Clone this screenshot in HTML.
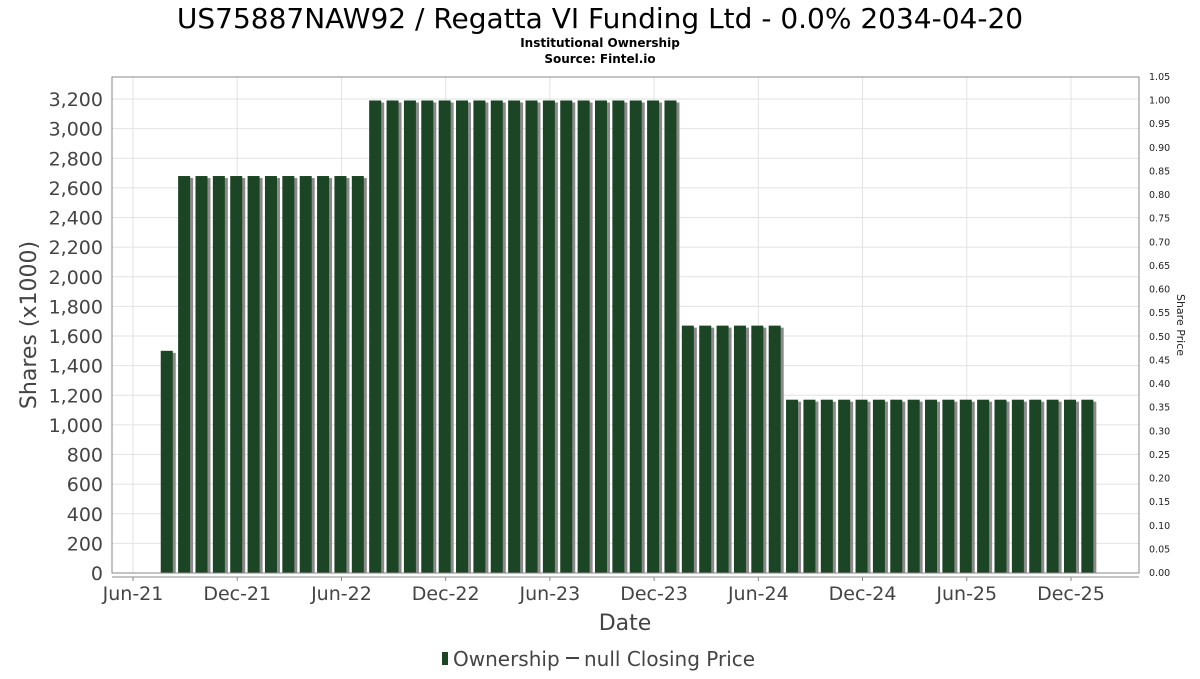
<!DOCTYPE html>
<html><head><meta charset="utf-8"><style>
body{margin:0;background:#fff;font-family:"DejaVu Sans","Liberation Sans",sans-serif}
svg text{font-family:"DejaVu Sans","Liberation Sans",sans-serif}
</style></head><body>
<svg id="c" width="1200" height="675" viewBox="0 0 1200 675">
<text x="600" y="28" font-size="28" text-anchor="middle" fill="#000">US75887NAW92 / Regatta VI Funding Ltd - 0.0% 2034-04-20</text>
<text x="600" y="47" font-size="12" font-weight="bold" text-anchor="middle">Institutional Ownership</text>
<text x="600" y="63" font-size="12" font-weight="bold" text-anchor="middle">Source: Fintel.io</text>
<g id="grid"></g>
<g id="bars"></g>
<rect x="112" y="77" width="1027" height="496" fill="none" stroke="#888"/>
<g id="axes"></g>
<text transform="translate(36,325) rotate(-90)" font-size="22" text-anchor="middle" fill="#444">Shares (x1000)</text>
<text transform="translate(1177,325) rotate(90)" font-size="11" text-anchor="middle" fill="#222">Share Price</text>
<text x="625" y="630" font-size="22" text-anchor="middle" fill="#444">Date</text>
<g>
<rect x="442" y="652" width="6" height="13" fill="#1b4524"/>
<text x="453" y="666" font-size="20" fill="#444">Ownership</text>
<line x1="566" y1="658" x2="579" y2="658" stroke="#444" stroke-width="2"/>
<text x="584" y="666" font-size="20" fill="#444">null Closing Price</text>
</g>
</svg>
<script>
const monthIndex=[];for(let m=2;m<=55;m++)monthIndex.push(m);
const shares=[1500,2680,2680,2680,2680,2680,2680,2680,2680,2680,2680,2680,
3190,3190,3190,3190,3190,3190,3190,3190,3190,3190,3190,3190,3190,3190,3190,3190,3190,3190,
1670,1670,1670,1670,1670,1670,
1170,1170,1170,1170,1170,1170,1170,1170,1170,1170,1170,1170,1170,1170,1170,1170,1170,1170];
const yTicks=[0,200,400,600,800,1000,1200,1400,1600,1800,2000,2200,2400,2600,2800,3000,3200];
const y2Ticks=[0,0.05,0.1,0.15,0.2,0.25,0.3,0.35,0.4,0.45,0.5,0.55,0.6,0.65,0.7,0.75,0.8,0.85,0.9,0.95,1.0,1.05];
const xLabels=["Jun-21","Dec-21","Jun-22","Dec-22","Jun-23","Dec-23","Jun-24","Dec-24","Jun-25","Dec-25"];
const xLabelMonths=[0,6,12,18,24,30,36,42,48,54];
const NS="http://www.w3.org/2000/svg";
const X=m=>133+m*17.37, Y=v=>573-v*(474/3200), Y2=v=>573-v*(496/1.05);
function mk(t,a,p){const e=document.createElementNS(NS,t);for(const k in a)e.setAttribute(k,a[k]);p.appendChild(e);return e;}
const grid=document.getElementById('grid'),bars=document.getElementById('bars'),axes=document.getElementById('axes');
yTicks.forEach(v=>{
 const l=mk('line',{x1:112,x2:1139,y1:Y(v),y2:Y(v),stroke:'#e2e2e2'},grid);
 
 
 const t=mk('text',{x:103,y:Y(v)+7,'font-size':19,'text-anchor':'end',fill:'#444'},axes);t.textContent=v.toLocaleString('en-US');
 
 
});
y2Ticks.forEach(v=>{
 const t=mk('text',{x:1149,y:Y2(v)+3,'font-size':9.5,fill:'#222'},axes);t.textContent=v.toFixed(2);
 
 
});
xLabels.forEach((s,i)=>{
 const x=X(xLabelMonths[i]);
 const l=mk('line',{x1:x,x2:x,y1:77,y2:573,stroke:'#e2e2e2'},grid);
 
 
 mk('line',{x1:x,x2:x,y1:577,y2:581,stroke:'#888'},axes);
 const t=mk('text',{x:x,y:600,'font-size':19,'text-anchor':'middle',fill:'#444'},axes);t.textContent=s;
 
 
});
mk('line',{x1:112,x2:1139,y1:577,y2:577,stroke:'#888'},axes);
shares.forEach((v,i)=>{
 const cx=X(monthIndex[i]);
 const s=mk('rect',{x:cx-7+3,y:Y(v)+2,width:12,height:573-Y(v)-2,fill:'#8a8a8a'},bars);
 
 
 const b=mk('rect',{x:cx-7,y:Y(v),width:12,height:573-Y(v),fill:'#1b4524'},bars);
 
 
});
</script>
</body></html>
